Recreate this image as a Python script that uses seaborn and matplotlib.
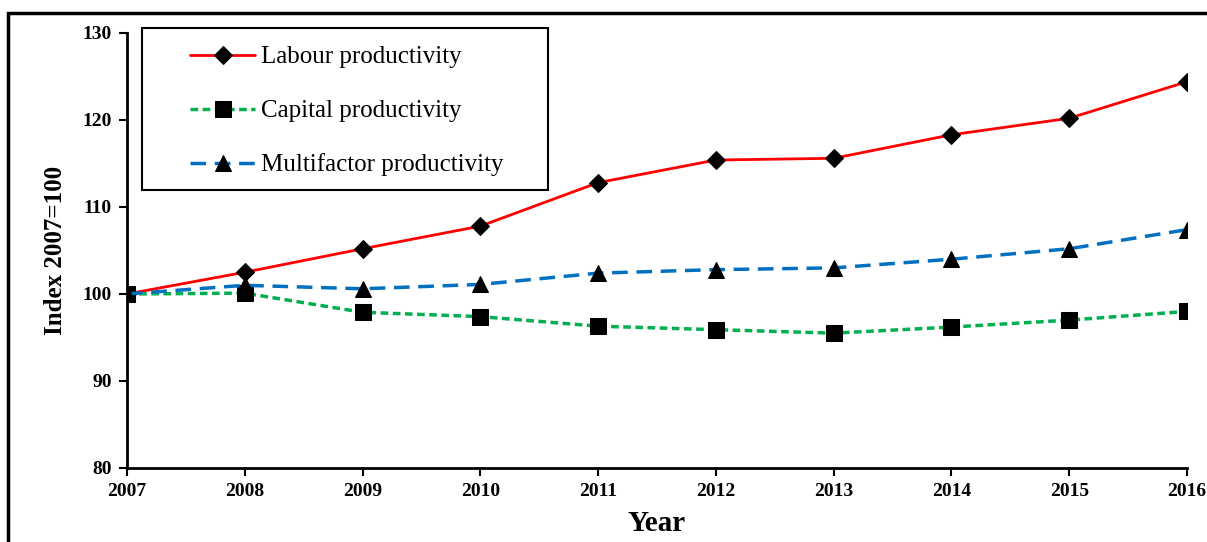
import matplotlib
matplotlib.use("Agg")
import matplotlib.pyplot as plt
import matplotlib.patches as mpatches
import seaborn as sns
import pandas as pd

# Dados (indice 2007=100)
anos = [2007, 2008, 2009, 2010, 2011, 2012, 2013, 2014, 2015, 2016]
labour = [100.0, 102.5, 105.2, 107.8, 112.8, 115.4, 115.6, 118.3, 120.2, 124.4]
capital = [100.0, 100.1, 97.9, 97.4, 96.3, 95.9, 95.5, 96.2, 97.0, 98.0]
multifactor = [100.0, 101.0, 100.6, 101.1, 102.4, 102.8, 103.0, 104.0, 105.2, 107.4]

sns.set_theme(style="ticks")
plt.rcParams['font.family'] = ['Liberation Serif', 'DejaVu Serif']
plt.rcParams['text.color'] = 'black'

W, H = 1207, 542
fig = plt.figure(figsize=(W / 100, H / 100), dpi=100)
ax = fig.add_axes([127 / W, 1 - 468 / H, (1187 - 127) / W, (468 - 33) / H])

df = pd.DataFrame({'Year': anos, 'Labour': labour, 'Capital': capital, 'Multi': multifactor})

sns.lineplot(data=df, x='Year', y='Labour', ax=ax, color='#FF0000', linewidth=2,
             marker='D', markersize=9, markerfacecolor='black', markeredgecolor='black',
             label='Labour productivity', zorder=3)
sns.lineplot(data=df, x='Year', y='Capital', ax=ax, color='#00B050', linewidth=2.5,
             linestyle=(0, (2.2, 1.3)), marker='s', markersize=11,
             markerfacecolor='black', markeredgecolor='black',
             label='Capital productivity', zorder=3)
sns.lineplot(data=df, x='Year', y='Multi', ax=ax, color='#0070C0', linewidth=2.5,
             linestyle=(0, (4.5, 2.5)), marker='^', markersize=11,
             markerfacecolor='black', markeredgecolor='black',
             label='Multifactor productivity', zorder=3)

ax.set_xlim(2007, 2016)
ax.set_ylim(80, 130)
ax.set_xticks(anos)
ax.set_yticks([80, 90, 100, 110, 120, 130])
ax.tick_params(axis='both', direction='out', length=6, width=1.5, colors='black',
               labelsize=14, pad=5)
for lbl in ax.get_xticklabels() + ax.get_yticklabels():
    lbl.set_fontweight('bold')

for side in ['top', 'right']:
    ax.spines[side].set_visible(False)
for side in ['left', 'bottom']:
    ax.spines[side].set_color('black')
    ax.spines[side].set_linewidth(2)
    ax.spines[side].set_clip_on(False)

ax.set_xlabel('Year', fontsize=21, fontweight='bold', labelpad=7, color='black')
ax.set_ylabel('Index 2007=100', fontsize=18, fontweight='bold', labelpad=11, color='black')

# legenda sem moldura; a moldura e desenhada a parte
leg = ax.legend(loc='upper left', bbox_to_anchor=(190 / W, 1 - 46 / H),
                bbox_transform=fig.transFigure, fontsize=18, frameon=False,
                handlelength=2.6, labelspacing=1.25, borderpad=0, borderaxespad=0,
                numpoints=1, handletextpad=0.25)
for t in leg.get_texts():
    t.set_color('black')
leg.set_zorder(6)

caixa = mpatches.Rectangle((142 / W, 1 - 190 / H), (548 - 142) / W, (190 - 28) / H,
                           transform=fig.transFigure, fill=True, facecolor='white',
                           edgecolor='black', linewidth=1.5, zorder=5, clip_on=False)
ax.add_patch(caixa)

# moldura externa (recortada como no original)
fig.patches.append(mpatches.Rectangle((8 / W, -0.05), 1.2, 1 - 13 / H + 0.05,
                                      transform=fig.transFigure, fill=False,
                                      edgecolor='black', linewidth=2.5))

plt.savefig('out.png', dpi=100)
